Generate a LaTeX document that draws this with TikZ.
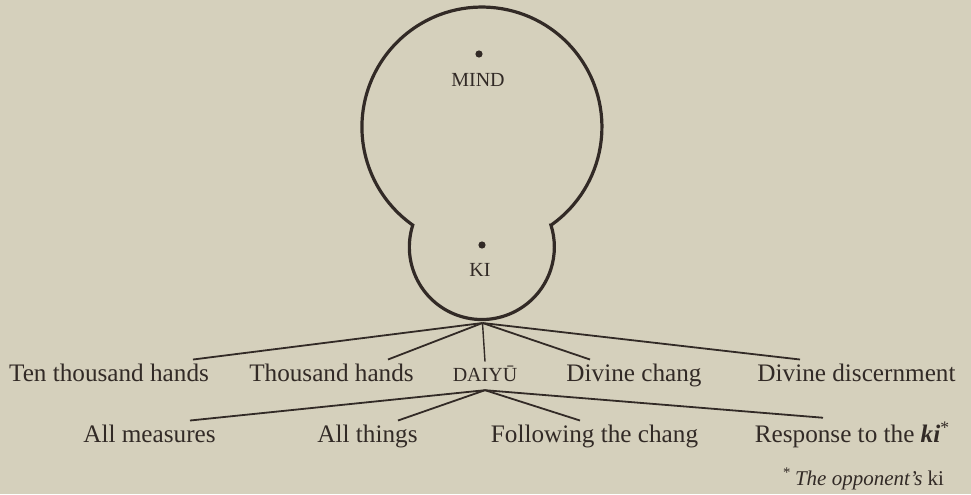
\documentclass[tikz,border=0pt]{standalone}
\usepackage{fontspec}
\setmainfont{Liberation Serif}
\definecolor{paper}{RGB}{213,208,188}
\definecolor{ink}{RGB}{50,42,38}

\begin{document}
\begin{tikzpicture}[x=0.5pt, y=0.5pt,
        lbl/.style={anchor=base, inner sep=0pt, outer sep=2pt, text=ink, font=\fontsize{12.6}{15}\selectfont},
        caps/.style={lbl, font=\fontsize{10}{12}\selectfont},
        dot/.style={circle, fill=ink, inner sep=0pt, minimum size=3.6pt},
        branch/.style={draw=ink, line width=0.9pt},
        stem/.style={draw=ink, line width=0.7pt}]
        \fill[paper] (0,0) rectangle (971,494);
        \useasboundingbox (0,0) rectangle (971,494);

        % outline of mind and ki
        \draw[ink, line width=1.6pt] (551.1,268.9) arc[start angle=-54.8, end angle=234.8, radius=120]
            arc[start angle=162.4, end angle=377.6, radius=72.5] -- cycle;

        \node[dot] (minddot) at (479,440) {};
        \node[caps] (mind) at (478,408) {MIND};
        \node[dot] (kidot) at (482,249) {};
        \node[caps] (ki) at (480,218) {KI};

        % first row
        \node[lbl] (tenthousand) at (109,113) {Ten thousand hands};
        \node[lbl] (thousand) at (331.5,113) {Thousand hands};
        \node[caps] (daiyu) at (485,113) {DAIYŪ};
        \node[lbl] (chang) at (634,113) {Divine chang};
        \node[lbl] (discern) at (856.5,113) {Divine discernment};

        % second row
        \node[lbl] (measures) at (149.5,52) {All measures};
        \node[lbl] (things) at (367.5,52) {All things};
        \node[lbl] (following) at (594.5,52) {Following the chang};
        \node[lbl] (response) at (852.5,52) {Response to the \textbf{\textit{ki}}\textsuperscript{*}};

        \node[lbl, anchor=base east, font=\fontsize{10.5}{12}\selectfont] (note) at (948,9) {\textsuperscript{*}\,\textit{The opponent's} ki};

        \coordinate (root) at (482.5,171);
        \coordinate (fork) at ([yshift=-2.5pt]daiyu.south);

        \draw[branch] (root) -- ([xshift=42pt]tenthousand.north);
        \draw[branch] (root) -- ([xshift=28.25pt]thousand.north);
        \draw[stem] (root) -- (daiyu.north);
        \draw[branch] (root) -- ([xshift=-22pt]chang.north);
        \draw[branch] (root) -- ([xshift=-28.25pt]discern.north);

        \draw[branch] (fork) -- ([xshift=20.25pt]measures.north);
        \draw[branch] (fork) -- ([xshift=15.25pt]things.north);
        \draw[branch] (fork) -- ([xshift=-7.25pt]following.north);
        \draw[branch] (fork) -- ([xshift=-14.75pt]response.north);
    \end{tikzpicture}
\end{document}
